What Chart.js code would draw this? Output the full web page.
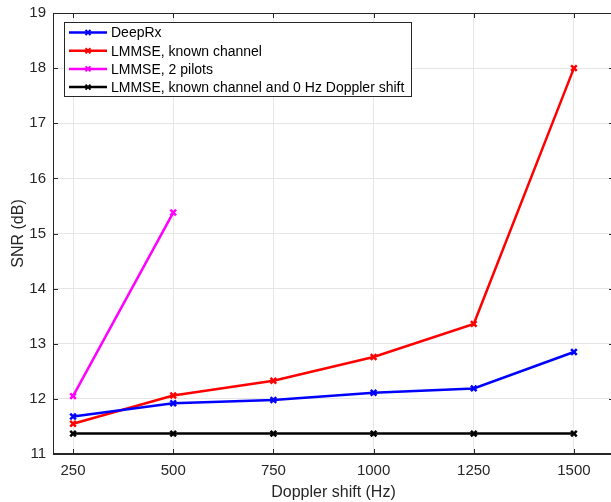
<!DOCTYPE html>
<html>
<head>
<meta charset="utf-8">
<script src="https://cdn.jsdelivr.net/npm/chart.js@4/dist/chart.umd.min.js"></script>
<style>
  html, body { margin: 0; padding: 0; background: #fff; overflow: hidden; }
  /* 원본 그림은 오른쪽 축선이 잘려 있음: 캔버스를 조금 넓게 */
  #wrap { width: 614px; height: 502px; }
</style>
</head>
<body>
<div id="wrap"><canvas id="c" width="614" height="502"></canvas></div>
<script>
// 데이터
const doppler = [250, 500, 750, 1000, 1250, 1500];
const xTicks = [250, 500, 750, 1000, 1250, 1500];
const yTicks = [11, 12, 13, 14, 15, 16, 17, 18, 19];
const deepRx = [11.68, 11.92, 11.98, 12.11, 12.19, 12.85];
const lmmseKnown = [11.55, 12.06, 12.33, 12.76, 13.36, 18.0];
const lmmse2Pilots = [12.05, 15.38];
const lmmseZeroDoppler = [11.37, 11.37, 11.37, 11.37, 11.37, 11.37];

const FONT = '"Liberation Sans", Arial, sans-serif';
const AXIS = '#262626';

// 마커 크기 때문에 오른쪽 여백이 생기지 않도록
Chart.LineController.prototype.getMaxOverflow = function() { return 0; };

function series(label, ys, color) {
    return {
        label: label,
        data: ys.map((y, i) => ({ x: doppler[i], y: y })),
        borderColor: color,
        backgroundColor: color,
        borderWidth: 2.5,
        pointStyle: 'crossRot',
        pointRadius: 4,
        pointBorderWidth: 2.5,
        pointHoverRadius: 4,
        tension: 0
    };
}

// 박스 + 안쪽 눈금
const boxPlugin = {
    id: 'box',
    afterDraw(chart) {
        const { ctx, chartArea: a, scales } = chart;
        ctx.save();
        ctx.strokeStyle = AXIS;
        ctx.lineWidth = 1;
        ctx.strokeRect(a.left + 0.5, a.top + 0.5, a.right - a.left - 1, a.bottom - a.top - 1);
        const L = 5;
        ctx.beginPath();
        xTicks.forEach(v => {
            const x = Math.round(scales.x.getPixelForValue(v)) + 0.5;
            ctx.moveTo(x, a.bottom); ctx.lineTo(x, a.bottom - L);
            ctx.moveTo(x, a.top); ctx.lineTo(x, a.top + L);
        });
        yTicks.forEach(v => {
            const y = Math.round(scales.y.getPixelForValue(v)) + 0.5;
            ctx.moveTo(a.left, y); ctx.lineTo(a.left + L, y);
            ctx.moveTo(a.right, y); ctx.lineTo(a.right - L, y);
        });
        ctx.stroke();
        ctx.restore();
    }
};

// 범례 (플롯 안쪽 왼쪽 위)
const legendPlugin = {
    id: 'innerLegend',
    afterDraw(chart) {
        const { ctx, chartArea: a } = chart;
        const x0 = a.left + 11, y0 = a.top + 9, w = 347, h = 74;
        ctx.save();
        ctx.fillStyle = '#fff';
        ctx.fillRect(x0, y0, w, h);
        ctx.strokeStyle = '#262626';
        ctx.lineWidth = 1;
        ctx.strokeRect(x0 + 0.5, y0 + 0.5, w, h);
        ctx.font = '14px ' + FONT;
        ctx.textBaseline = 'middle';
        chart.data.datasets.forEach((ds, i) => {
            const y = y0 + 10.5 + i * 18.2;
            ctx.strokeStyle = ds.borderColor;
            ctx.lineWidth = 2.5;
            ctx.beginPath();
            ctx.moveTo(x0 + 5, y); ctx.lineTo(x0 + 43, y);
            ctx.stroke();
            const cx = x0 + 24, r = 2.5;
            ctx.lineWidth = 2;
            ctx.beginPath();
            ctx.moveTo(cx - r, y - r); ctx.lineTo(cx + r, y + r);
            ctx.moveTo(cx - r, y + r); ctx.lineTo(cx + r, y - r);
            ctx.stroke();
            ctx.fillStyle = '#000';
            ctx.fillText(ds.label, x0 + 47, y + 1);
        });
        ctx.restore();
    }
};

new Chart(document.getElementById('c'), {
    type: 'line',
    data: {
        datasets: [
            series('DeepRx', deepRx, '#0000ff'),
            series('LMMSE, known channel', lmmseKnown, '#ff0000'),
            series('LMMSE, 2 pilots', lmmse2Pilots, '#ff00ff'),
            series('LMMSE, known channel and 0 Hz Doppler shift', lmmseZeroDoppler, '#000000')
        ]
    },
    options: {
        responsive: false,
        animation: false,
        layout: { padding: { top: 13, right: 0, left: 0, bottom: 0 } },
        plugins: { legend: { display: false }, tooltip: { enabled: false } },
        scales: {
            x: {
                type: 'linear',
                min: 200,
                max: 1600,
                afterBuildTicks: s => { s.ticks = xTicks.map(v => ({ value: v })); },
                afterFit: s => { s.height = 48; s.paddingLeft = 0; s.paddingRight = 0; },
                grid: { color: '#e6e6e6', drawTicks: false },
                border: { color: AXIS },
                ticks: { color: AXIS, font: { family: FONT, size: 15 }, padding: 8, maxRotation: 0, callback: v => String(v) },
                title: { display: true, text: 'Doppler shift (Hz)', color: AXIS, font: { family: FONT, size: 16 }, padding: { top: 0, bottom: 0 } }
            },
            y: {
                min: 11,
                max: 19,
                afterBuildTicks: s => { s.ticks = yTicks.map(v => ({ value: v })); },
                afterFit: s => { s.width = 53; s.paddingTop = 0; s.paddingBottom = 0; },
                grid: { color: '#e6e6e6', drawTicks: false },
                border: { color: AXIS },
                ticks: { color: AXIS, font: { family: FONT, size: 15 }, padding: 7, callback: v => String(v) },
                title: { display: true, text: 'SNR (dB)', color: AXIS, font: { family: FONT, size: 16 }, padding: { top: 9, bottom: 0 } }
            }
        }
    },
    plugins: [boxPlugin, legendPlugin]
});
</script>
</body>
</html>
